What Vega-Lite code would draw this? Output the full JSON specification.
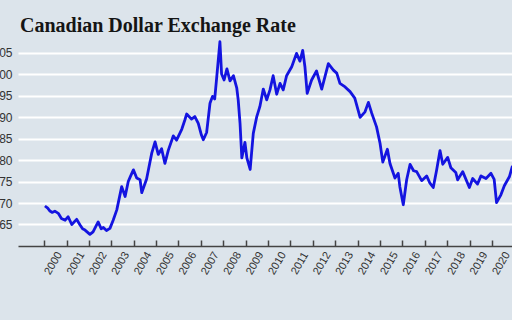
{
  "$schema": "https://vega.github.io/schema/vega-lite/v6.json",
  "width": 494,
  "height": 215,
  "autosize": {"type": "none"},
  "padding": {"left": 18, "top": 31, "right": 0, "bottom": 74},
  "background": "#dce4eb",
  "title": {
    "text": "Canadian Dollar Exchange Rate",
    "anchor": "start",
    "frame": "group",
    "font": "Liberation Serif",
    "fontSize": 20,
    "fontWeight": "bold",
    "color": "#151515",
    "dx": 2,
    "offset": -5
  },
  "config": {
    "view": {"stroke": null},
    "axis": {"labelFont": "Liberation Sans", "titleFont": "Liberation Sans"}
  },
  "data": {
    "values": [
      {"date": "2000-01-15", "rate": 0.693},
      {"date": "2000-03-01", "rate": 0.688},
      {"date": "2000-04-01", "rate": 0.682},
      {"date": "2000-05-10", "rate": 0.678},
      {"date": "2000-06-25", "rate": 0.681},
      {"date": "2000-08-20", "rate": 0.676},
      {"date": "2000-10-10", "rate": 0.664},
      {"date": "2000-12-10", "rate": 0.660},
      {"date": "2001-01-28", "rate": 0.668},
      {"date": "2001-03-28", "rate": 0.650},
      {"date": "2001-06-15", "rate": 0.662},
      {"date": "2001-08-10", "rate": 0.649},
      {"date": "2001-09-20", "rate": 0.640},
      {"date": "2001-10-30", "rate": 0.637},
      {"date": "2002-01-18", "rate": 0.627},
      {"date": "2002-03-10", "rate": 0.633},
      {"date": "2002-06-01", "rate": 0.656},
      {"date": "2002-07-20", "rate": 0.640},
      {"date": "2002-08-25", "rate": 0.643},
      {"date": "2002-10-15", "rate": 0.636},
      {"date": "2002-12-10", "rate": 0.641},
      {"date": "2003-02-01", "rate": 0.660},
      {"date": "2003-04-01", "rate": 0.684},
      {"date": "2003-06-20", "rate": 0.738},
      {"date": "2003-08-15", "rate": 0.715},
      {"date": "2003-10-05", "rate": 0.750},
      {"date": "2003-11-10", "rate": 0.762},
      {"date": "2003-12-28", "rate": 0.777},
      {"date": "2004-02-20", "rate": 0.758},
      {"date": "2004-04-15", "rate": 0.754},
      {"date": "2004-05-12", "rate": 0.724},
      {"date": "2004-07-30", "rate": 0.756},
      {"date": "2004-10-22", "rate": 0.816},
      {"date": "2004-12-15", "rate": 0.842},
      {"date": "2005-02-05", "rate": 0.813},
      {"date": "2005-04-01", "rate": 0.826},
      {"date": "2005-05-25", "rate": 0.792},
      {"date": "2005-07-20", "rate": 0.823},
      {"date": "2005-10-08", "rate": 0.856},
      {"date": "2005-12-01", "rate": 0.846},
      {"date": "2006-02-25", "rate": 0.872},
      {"date": "2006-04-15", "rate": 0.893},
      {"date": "2006-05-15", "rate": 0.907},
      {"date": "2006-08-01", "rate": 0.895},
      {"date": "2006-09-25", "rate": 0.901},
      {"date": "2006-11-20", "rate": 0.885},
      {"date": "2007-01-10", "rate": 0.858},
      {"date": "2007-02-10", "rate": 0.847},
      {"date": "2007-04-05", "rate": 0.864},
      {"date": "2007-05-30", "rate": 0.932},
      {"date": "2007-07-10", "rate": 0.948},
      {"date": "2007-08-15", "rate": 0.942},
      {"date": "2007-09-15", "rate": 0.990},
      {"date": "2007-11-08", "rate": 1.075},
      {"date": "2007-12-05", "rate": 1.000},
      {"date": "2008-01-15", "rate": 0.986},
      {"date": "2008-03-01", "rate": 1.012},
      {"date": "2008-04-20", "rate": 0.984},
      {"date": "2008-06-15", "rate": 0.996},
      {"date": "2008-08-08", "rate": 0.968},
      {"date": "2008-09-01", "rate": 0.940},
      {"date": "2008-10-01", "rate": 0.885},
      {"date": "2008-10-30", "rate": 0.805},
      {"date": "2008-12-20", "rate": 0.841},
      {"date": "2009-01-20", "rate": 0.805},
      {"date": "2009-03-15", "rate": 0.778},
      {"date": "2009-05-05", "rate": 0.862},
      {"date": "2009-07-01", "rate": 0.901},
      {"date": "2009-08-20", "rate": 0.924},
      {"date": "2009-10-15", "rate": 0.965},
      {"date": "2009-12-10", "rate": 0.940},
      {"date": "2010-02-01", "rate": 0.963},
      {"date": "2010-03-25", "rate": 0.996},
      {"date": "2010-05-22", "rate": 0.953},
      {"date": "2010-07-15", "rate": 0.978},
      {"date": "2010-09-05", "rate": 0.963},
      {"date": "2010-10-30", "rate": 0.996},
      {"date": "2011-01-22", "rate": 1.017},
      {"date": "2011-04-10", "rate": 1.048},
      {"date": "2011-06-05", "rate": 1.030},
      {"date": "2011-07-20", "rate": 1.055},
      {"date": "2011-08-25", "rate": 1.017},
      {"date": "2011-10-01", "rate": 0.955},
      {"date": "2011-12-12", "rate": 0.986},
      {"date": "2012-03-01", "rate": 1.007},
      {"date": "2012-05-25", "rate": 0.965},
      {"date": "2012-09-10", "rate": 1.024},
      {"date": "2012-12-01", "rate": 1.009},
      {"date": "2013-01-25", "rate": 1.002},
      {"date": "2013-03-18", "rate": 0.978},
      {"date": "2013-06-10", "rate": 0.970},
      {"date": "2013-08-30", "rate": 0.959},
      {"date": "2013-11-15", "rate": 0.944},
      {"date": "2014-02-10", "rate": 0.899},
      {"date": "2014-05-01", "rate": 0.912},
      {"date": "2014-06-25", "rate": 0.934},
      {"date": "2014-08-18", "rate": 0.909},
      {"date": "2014-11-05", "rate": 0.877},
      {"date": "2015-01-01", "rate": 0.839},
      {"date": "2015-02-15", "rate": 0.795},
      {"date": "2015-05-01", "rate": 0.825},
      {"date": "2015-06-12", "rate": 0.792},
      {"date": "2015-09-01", "rate": 0.758},
      {"date": "2015-10-25", "rate": 0.769},
      {"date": "2015-11-20", "rate": 0.738},
      {"date": "2016-01-15", "rate": 0.696},
      {"date": "2016-03-10", "rate": 0.754},
      {"date": "2016-05-05", "rate": 0.790},
      {"date": "2016-07-01", "rate": 0.775},
      {"date": "2016-08-20", "rate": 0.773},
      {"date": "2016-11-10", "rate": 0.752},
      {"date": "2017-01-30", "rate": 0.763},
      {"date": "2017-03-25", "rate": 0.746},
      {"date": "2017-05-18", "rate": 0.736},
      {"date": "2017-07-12", "rate": 0.777},
      {"date": "2017-09-05", "rate": 0.822},
      {"date": "2017-10-20", "rate": 0.790},
      {"date": "2018-01-08", "rate": 0.806},
      {"date": "2018-03-01", "rate": 0.782},
      {"date": "2018-05-20", "rate": 0.771},
      {"date": "2018-06-20", "rate": 0.754},
      {"date": "2018-09-10", "rate": 0.773},
      {"date": "2018-12-28", "rate": 0.736},
      {"date": "2019-02-20", "rate": 0.757},
      {"date": "2019-05-10", "rate": 0.744},
      {"date": "2019-07-05", "rate": 0.763},
      {"date": "2019-09-25", "rate": 0.757},
      {"date": "2019-12-15", "rate": 0.769},
      {"date": "2020-02-05", "rate": 0.755},
      {"date": "2020-03-15", "rate": 0.701},
      {"date": "2020-05-25", "rate": 0.719},
      {"date": "2020-07-20", "rate": 0.740},
      {"date": "2020-10-10", "rate": 0.761},
      {"date": "2020-11-25", "rate": 0.784},
      {"date": "2021-01-15", "rate": 0.790}
    ]
  },
  "mark": {"type": "line", "color": "#1414e0", "strokeWidth": 2.8, "clip": true, "strokeJoin": "round"},
  "encoding": {
    "x": {
      "field": "date",
      "type": "temporal",
      "scale": {"domain": ["1998-11-02", "2020-11-22"]},
      "axis": {
        "title": null,
        "format": "%Y",
        "values": [
          {"year": 2000}, {"year": 2001}, {"year": 2002}, {"year": 2003}, {"year": 2004},
          {"year": 2005}, {"year": 2006}, {"year": 2007}, {"year": 2008}, {"year": 2009},
          {"year": 2010}, {"year": 2011}, {"year": 2012}, {"year": 2013}, {"year": 2014},
          {"year": 2015}, {"year": 2016}, {"year": 2017}, {"year": 2018}, {"year": 2019},
          {"year": 2020}
        ],
        "grid": false,
        "labelAngle": -60,
        "labelAlign": "center",
        "labelBaseline": "middle",
        "labelOffset": 9,
        "labelPadding": 23,
        "labelFontSize": 11,
        "labelColor": "#333333",
        "labelFlush": false,
        "labelOverlap": false,
        "tickSize": -6,
        "tickColor": "#444444",
        "tickWidth": 1.5,
        "domainColor": "#444444",
        "domainWidth": 1.5
      }
    },
    "y": {
      "field": "rate",
      "type": "quantitative",
      "scale": {"domain": [0.6, 1.1], "zero": false, "nice": false},
      "axis": {
        "title": null,
        "values": [0.65, 0.7, 0.75, 0.8, 0.85, 0.9, 0.95, 1.0, 1.05],
        "format": ".2f",
        "domain": false,
        "ticks": false,
        "grid": true,
        "gridColor": "#ffffff",
        "gridWidth": 2,
        "labelPadding": 6,
        "labelFontSize": 12,
        "labelColor": "#333333"
      }
    }
  }
}
